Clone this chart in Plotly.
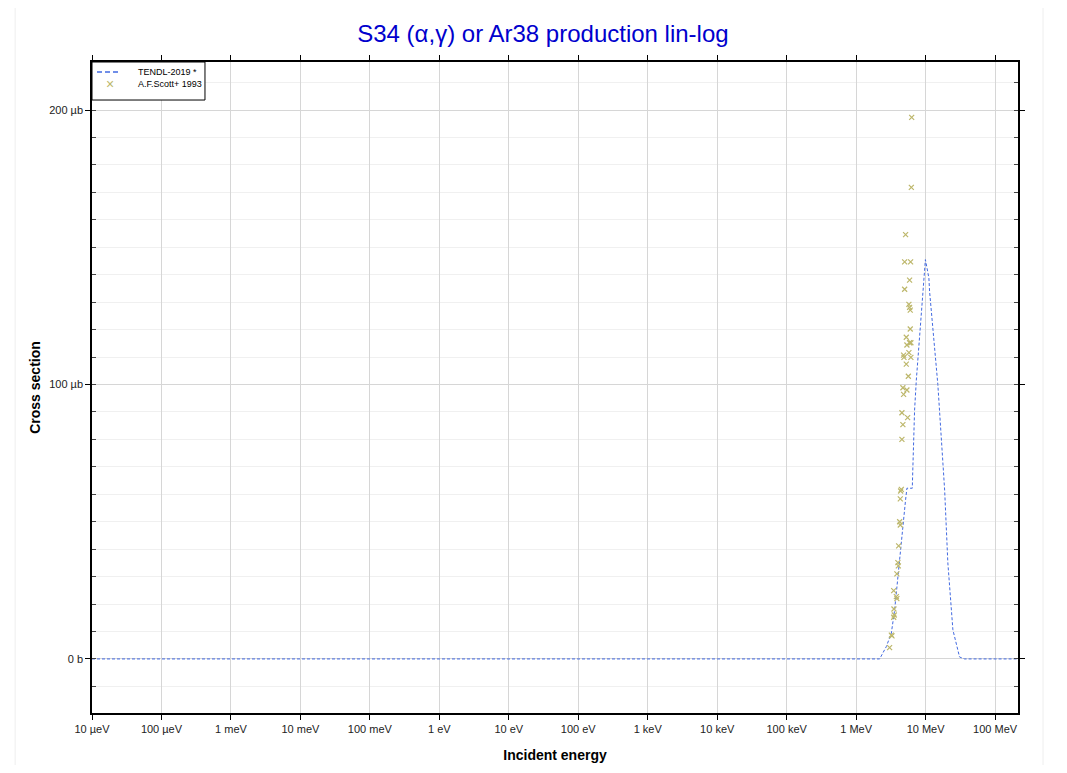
import plotly.graph_objects as go

# TENDL-2019 evaluation (energy in eV, cross section in microbarn)
tendl_e = [1e-5, 2.0e6, 2.18e6, 2.72e6, 3.21e6, 3.58e6, 3.99e6, 4.32e6, 4.71e6, 5.15e6,
           5.38e6, 6.43e6, 6.56e6, 6.94e6, 7.35e6, 7.75e6, 8.2e6, 9.15e6, 9.93e6,
           11.15e6, 11.4e6, 15.0e6, 18.8e6, 20.9e6, 24.7e6, 30.8e6, 36.4e6, 2.1e8]
tendl_xs = [0, 0, 0, 4.5, 9.4, 17.8, 30.0, 39.7, 50.6, 58.0,
            62.2, 62.2, 70.0, 90.7, 101.6, 109.0, 120.0, 135.6, 145.5,
            138.8, 134.0, 100.0, 61.5, 35.0, 10.6, 0.7, 0, 0]

# A.F.Scott+ 1993 measurements (energy in MeV, cross section in microbarn)
scott_e = [6.30, 6.23, 5.15, 4.99, 6.08, 5.88, 4.99, 5.75, 5.88, 6.01,
           6.01, 5.27, 5.88, 5.38, 6.14, 4.82, 4.88, 5.75, 6.14, 5.27,
           5.64, 4.71, 5.38, 4.82, 4.56, 5.51, 4.71, 4.56, 4.47, 4.37,
           4.32, 4.23, 4.32, 4.09, 3.99, 4.05, 3.86, 3.47, 3.79, 3.86,
           3.50, 3.47, 3.54, 3.21, 3.28, 3.03]
scott_xs = [197.3, 171.8, 154.6, 144.7, 144.7, 138.0, 134.7, 129.2, 128.1, 127.1,
            120.2, 117.2, 115.2, 114.4, 115.2, 110.7, 109.9, 111.6, 109.9, 107.4,
            103.0, 98.8, 98.0, 96.4, 89.7, 87.9, 85.4, 80.0, 61.8, 61.2,
            58.3, 50.0, 48.8, 41.2, 35.1, 33.9, 31.0, 24.9, 22.7, 22.0,
            18.2, 15.2, 16.0, 8.7, 8.4, 4.1]

x_tickvals = [1e-5, 1e-4, 1e-3, 1e-2, 1e-1, 1, 10, 100, 1e3, 1e4, 1e5, 1e6, 1e7, 1e8]
x_ticktext = ['10 µeV', '100 µeV', '1 meV', '10 meV', '100 meV', '1 eV', '10 eV',
              '100 eV', '1 keV', '10 keV', '100 keV', '1 MeV', '10 MeV', '100 MeV']
y_tickvals = [0, 100, 200]
y_ticktext = ['0 b', '100 µb', '200 µb']

LINE_COLOR = 'royalblue'
MARKER_COLOR = 'darkkhaki'

fig = go.Figure()
fig.add_trace(go.Scatter(
    x=tendl_e, y=tendl_xs, mode='lines', name='TENDL-2019 *',
    line=dict(color=LINE_COLOR, width=1, dash='3px,2px'),
))
fig.add_trace(go.Scatter(
    x=[e * 1e6 for e in scott_e], y=scott_xs, mode='markers', name='A.F.Scott+ 1993',
    marker=dict(symbol='x-thin', size=5, line=dict(color=MARKER_COLOR, width=1.2), color=MARKER_COLOR),
))

axis_font = dict(family='Arial', size=11, color='#222')
title_font = dict(family='Arial', size=14, color='black')

fig.update_layout(
    width=1051, height=757,
    margin=dict(l=84, r=41, t=54, b=52),
    paper_bgcolor='white', plot_bgcolor='white',
    title=dict(text='S34 (α,γ) or Ar38 production lin-log', x=0.509, y=0.966,
               xanchor='center', yanchor='middle',
               font=dict(family='Arial', size=24, color='mediumblue')),
    xaxis=dict(
        type='log', range=[-5, 8.33], automargin=False,
        tickvals=x_tickvals, ticktext=x_ticktext, tickfont=axis_font,
        ticks='outside', ticklen=5, tickcolor='black',
        showline=True, linecolor='black', linewidth=1.5, mirror='allticks',
        showgrid=True, gridcolor='#d6d6d6', zeroline=False,
        title=dict(text='<b>Incident energy</b>', font=title_font, standoff=16),
    ),
    yaxis=dict(
        range=[-19.7, 217.5], automargin=False,
        tickvals=y_tickvals, ticktext=y_ticktext, tickfont=axis_font,
        ticks='outside', ticklen=5, tickcolor='black',
        showline=True, linecolor='black', linewidth=1.5, mirror='allticks',
        showgrid=True, gridcolor='#d6d6d6', zeroline=False,
        minor=dict(dtick=10, ticks='inside', ticklen=4, tickcolor='#444',
                   showgrid=True, gridcolor='#f0f0f0'),
        title=dict(text='<b>Cross section</b>', font=title_font, standoff=5),
    ),
    showlegend=False,
)

# compact legend box in the top-left corner
fig.add_shape(type='rect', xref='paper', yref='paper', x0=0, x1=0.122, y0=0.9416, y1=1,
              line=dict(color='black', width=1), fillcolor='white', layer='above')
fig.add_shape(type='line', xref='paper', yref='paper', x0=0.0054, x1=0.0313, y0=0.9846, y1=0.9846,
              line=dict(color=LINE_COLOR, width=1.5, dash='5px,3px'))
fig.add_annotation(xref='paper', yref='paper', x=0.0195, y=0.9662, text='×', showarrow=False,
                   font=dict(family='Arial', size=14, color=MARKER_COLOR), xanchor='center', yanchor='middle')
fig.add_annotation(xref='paper', yref='paper', x=0.0475, y=0.9846, text='TENDL-2019 *', showarrow=False,
                   font=dict(family='Arial', size=9, color='black'), xanchor='left', yanchor='middle')
fig.add_annotation(xref='paper', yref='paper', x=0.0475, y=0.9662, text='A.F.Scott+ 1993', showarrow=False,
                   font=dict(family='Arial', size=9, color='black'), xanchor='left', yanchor='middle')

# faint outline around the figure area
fig.add_shape(type='rect', xref='paper', yref='paper',
              x0=-0.083, x1=1.027, y0=-0.092, y1=1.09,
              line=dict(color='#eeeeee', width=1), layer='below')

fig.write_html("out.html")
